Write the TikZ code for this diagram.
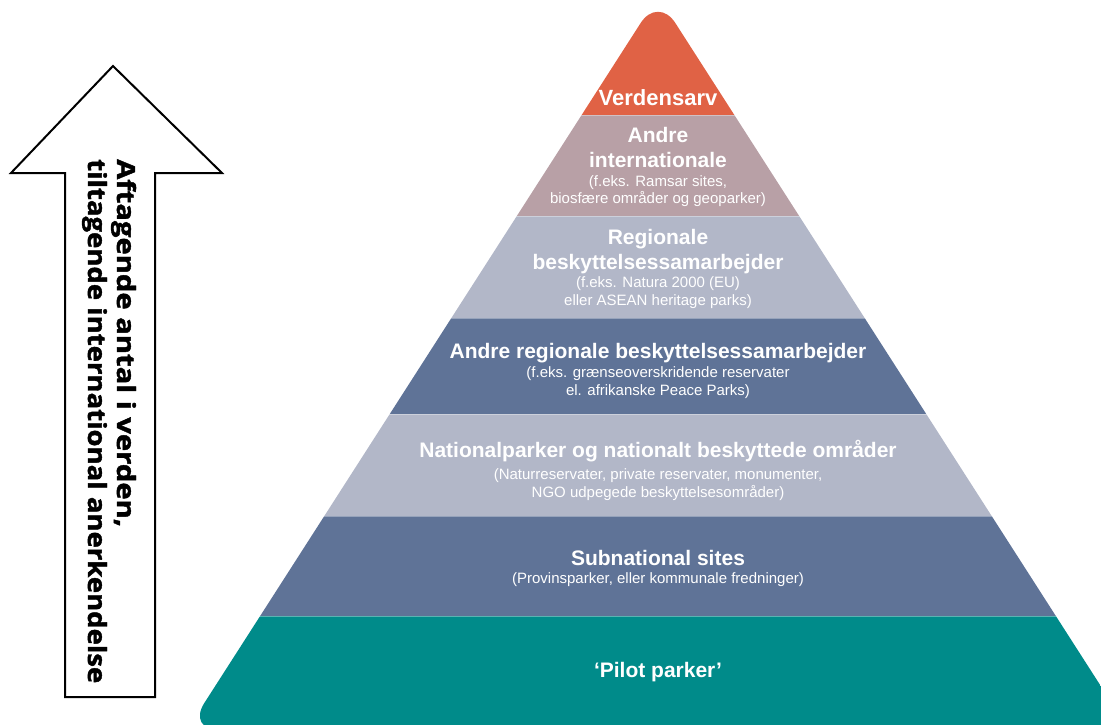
\documentclass[tikz,border=0pt]{standalone}
\usepackage{fontspec}
\setmainfont{Liberation Sans}
\newfontfamily\arrowfont{Open Sans}[BoldFeatures={FakeBold=1.5}]
\definecolor{cverd}{HTML}{E06245}
\definecolor{cint}{HTML}{B8A0A6}
\definecolor{clight}{HTML}{B2B7C8}
\definecolor{cdark}{HTML}{5F7397}
\definecolor{cteal}{HTML}{008B8A}
\begin{document}
\begin{tikzpicture}[x=1pt,y=-1pt,
  bt/.style={text=white,font=\bfseries\fontsize{21}{25}\selectfont,anchor=base,inner sep=0pt},
  st/.style={text=white,font=\fontsize{15}{18}\selectfont,anchor=base,inner sep=0pt},
  arrowtext/.style={font=\arrowfont\bfseries\fontsize{25}{29}\selectfont,anchor=base west,rotate=-90,inner sep=0pt},
  sep/.style={white,opacity=0.35,line width=1pt}]
\useasboundingbox (0,0) rectangle (1101,724);
\begin{scope}
  \clip[rounded corners=32pt] (400,730) -- (187,730) -- (658,-4) -- (1129,730) -- cycle;
  \fill[cverd] (0,-10) rectangle (1200,115);
  \fill[cint] (0,115) rectangle (1200,216);
  \fill[clight] (0,216) rectangle (1200,318);
  \fill[cdark] (0,318) rectangle (1200,414);
  \fill[clight] (0,414) rectangle (1200,516);
  \fill[cdark] (0,516) rectangle (1200,616);
  \fill[cteal] (0,616) rectangle (1200,740);
  \foreach \yy in {115,216,318,414,516,616} \draw[sep] (0,\yy) -- (1200,\yy);
\end{scope}
% texts
\node[bt,font=\bfseries\fontsize{22}{25}\selectfont] (verd) at (658,105) {Verdensarv};
\node[bt] (int1) at (658,142) {Andre};
\node[bt] (int2) at (658,167) {internationale};
\node[st] (int3) at (658,186) {(f.eks. Ramsar sites,};
\node[st] (int4) at (658,203) {biosfære områder og geoparker)};
\node[bt] (reg1) at (658,244) {Regionale};
\node[bt] (reg2) at (658,269) {beskyttelsessamarbejder};
\node[st] (reg3) at (658,287) {(f.eks. Natura 2000 (EU)};
\node[st] (reg4) at (658,305) {eller ASEAN heritage parks)};
\node[bt] (areg1) at (658,358) {Andre regionale beskyttelsessamarbejder};
\node[st] (areg2) at (658,377) {(f.eks. grænseoverskridende reservater};
\node[st] (areg3) at (658,395) {el. afrikanske Peace Parks)};
\node[bt] (nat1) at (658,457) {Nationalparker og nationalt beskyttede områder};
\node[st] (nat2) at (658,479) {(Naturreservater, private reservater, monumenter,};
\node[st] (nat3) at (658,497) {NGO udpegede beskyttelsesområder)};
\node[bt] (sub1) at (658,565) {Subnational sites};
\node[st] (sub2) at (658,583) {(Provinsparker, eller kommunale fredninger)};
\node[bt] (pilot) at (658,677) {‘Pilot parker’};
% arrow
\draw[line width=2pt,fill=white,line join=miter] (113,66) -- (222,173) -- (155,173) -- (155,697) -- (65,697) -- (65,173) -- (11,173) -- cycle;
\node[arrowtext] (arr1) at (117,159) {\resizebox{368pt}{\height}{Aftagende antal i verden,}};
\node[arrowtext] (arr2) at (88,159) {\resizebox{524pt}{\height}{tiltagende international anerkendelse}};
\end{tikzpicture}
\end{document}
